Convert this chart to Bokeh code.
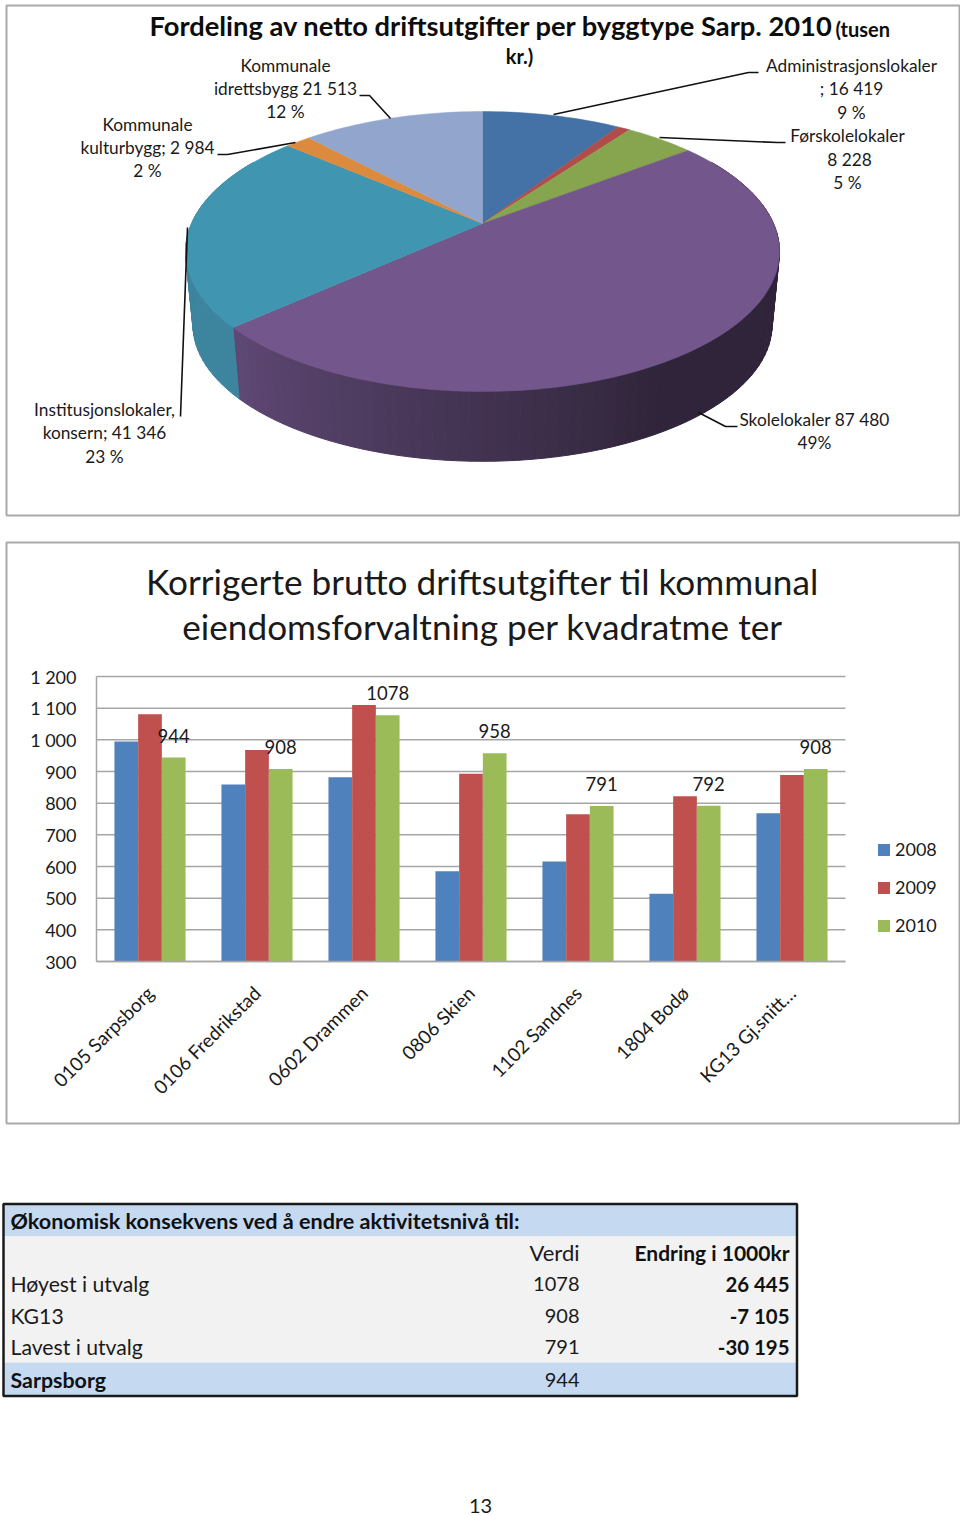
import math
from bokeh.embed import file_html
from bokeh.resources import INLINE
from bokeh.plotting import figure
from bokeh.layouts import column
from bokeh.models import ColumnDataSource, FixedTicker, Legend, LegendItem, Range1d
from bokeh.core.properties import value

FONT = "Lato"

# ---------- data ----------
pie_names = ["Administrasjonslokaler", "Andre", "Førskolelokaler", "Skolelokaler",
             "Institusjonslokaler", "Kulturbygg", "Idrettsbygg"]
pie_values = [16419, 1500, 8228, 87480, 41346, 2984, 21513]
pie_colors = ["#4472a6", "#b04c49", "#87a44f", "#72568c", "#4095b0", "#dc8a3e", "#92a6cd"]

pie_label_lines = ["Kommunale", "idrettsbygg 21 513", "12 %",
                   "Kommunale", "kulturbygg; 2 984", "2 %",
                   "Administrasjonslokaler", "; 16 419", "9 %",
                   "Førskolelokaler", "8 228", "5 %",
                   "Institusjonslokaler,", "konsern; 41 346", "23 %",
                   "Skolelokaler 87 480", "49%"]

categories = ["0105 Sarpsborg", "0106 Fredrikstad", "0602 Drammen", "0806 Skien",
              "1102 Sandnes", "1804 Bodø", "KG13 Gj.snitt…"]
v2008 = [995, 859, 882, 585, 616, 514, 768]
v2009 = [1081, 968, 1110, 893, 765, 822, 889]
v2010 = [944, 908, 1078, 958, 791, 792, 908]
y_ticks = [300, 400, 500, 600, 700, 800, 900, 1000, 1100, 1200]

table_title = "Økonomisk konsekvens ved å endre aktivitetsnivå til:"
row_labels = ["Høyest i utvalg", "KG13", "Lavest i utvalg", "Sarpsborg"]
row_verdi = ["1078", "908", "791", "944"]
row_endring = ["26 445", "-7 105", "-30 195", ""]

# ---------- pie (3D projection) ----------
PW, PH = 960, 530
pie = figure(width=PW, height=PH, x_range=Range1d(0, PW), y_range=Range1d(PH, 0),
             toolbar_location=None, output_backend="svg", min_border=0, frame_align=False,
             outline_line_color=None, x_axis_type=None, y_axis_type=None)
pie.grid.visible = False

cx, cy, A, B, K = 482.0, 223.0, 291.0, 134.4, 0.2


def rim(theta, scale=1.0, drop=0.0):
    t = math.radians(theta)
    w = 1 + K * math.cos(t)
    return cx + scale * A * math.sin(t) / w, cy - scale * B * math.cos(t) / w + drop


def hexmix(c1, c2, f):
    a = [int(c1[i:i + 2], 16) for i in (1, 3, 5)]
    b = [int(c2[i:i + 2], 16) for i in (1, 3, 5)]
    return "#%02x%02x%02x" % tuple(round(x + (y - x) * f) for x, y in zip(a, b))


total = sum(pie_values)
edges = [0.0]
for v_ in pie_values:
    edges.append(edges[-1] + v_ / total * 360)

# frame
pie.quad(left=[6], right=[959], top=[5], bottom=[515], fill_color="white",
         line_color="#a9a9a9", line_width=2)

# side wall
wx, wy, wc = [], [], []
th = 60.0
while th < 300.0:
    t2 = th + 2.0
    m = (th + t2) / 2
    if m < edges[4]:
        f = min(1.0, max(0.0, (edges[4] - m) / 80.0))
        c = hexmix("#5f4875", "#2f2439", f)
    else:
        c = "#3d859e"
    a1, b1 = rim(th)
    a2, b2 = rim(t2)
    a3, b3 = rim(t2, 0.975, 74)
    a4, b4 = rim(th, 0.975, 74)
    wx.append([a1, a2, a3, a4])
    wy.append([b1, b2, b3, b4])
    wc.append(c)
    th = t2
pie.patches(wx, wy, fill_color=wc, line_color=wc, line_width=1.0)

# top surface
xs, ys = [], []
for i in range(len(pie_values)):
    n = max(2, int((edges[i + 1] - edges[i]) / 1.5))
    px, py = [cx], [cy]
    for j in range(n + 1):
        x_, y_ = rim(edges[i] + (edges[i + 1] - edges[i]) * j / n)
        px.append(x_)
        py.append(y_)
    xs.append(px)
    ys.append(py)
pie.patches(xs, ys, fill_color=pie_colors, line_color=pie_colors, line_width=0.5)

# leader lines
leaders_x = [[359, 369, 390], [217, 227, 295], [758, 748, 553], [785, 777, 659], [180, 187], [737, 725, 698]]
leaders_y = [[95, 95, 118], [154, 154, 142], [72, 72, 114], [142, 142, 137], [416, 227], [426, 426, 412]]
pie.multi_line(leaders_x, leaders_y, line_color="#111111", line_width=1.6)

lab_x = [285, 285, 285, 147, 147, 147, 851, 851, 851, 847, 849, 847, 104, 104, 104, 814, 814]
lab_y = [65, 88, 111, 124, 147, 170, 65, 88, 112, 135, 159, 182, 409, 432, 456, 419, 442]
pie.text(lab_x, lab_y, text=pie_label_lines, text_font=value(FONT), text_font_size="17.3px",
         text_align="center", text_baseline="middle", text_color="#1a1a1a")

pie.text([149], [25], text=["Fordeling av netto driftsutgifter per byggtype Sarp. 2010"],
         text_font=value(FONT), text_font_style="bold", text_font_size="27.3px",
         text_align="left", text_baseline="middle", text_color="#0d0d0d")
pie.text([835, 519], [28, 55], text=["(tusen", "kr.)"],
         text_font=value(FONT), text_font_style="bold", text_font_size="20px",
         text_align=["left", "center"], text_baseline="middle", text_color="#0d0d0d")

# ---------- bars ----------
BH = 610
FL, FR, FT, FB = 96, 845, 676, 961   # plot area edges on the page


def dx(px):
    return (px - FL) * len(categories) / (FR - FL)


def dy(py):
    return 1200 - (py - FT) * 900 / (FB - FT)


bar = figure(width=PW, height=BH, x_range=Range1d(dx(0), dx(PW)), y_range=Range1d(dy(PH + BH), dy(PH)),
             toolbar_location=None, output_backend="svg", frame_align=False, min_border=0,
             outline_line_color=None)
bar.quad(left=[dx(6)], right=[dx(959)], top=[dy(542)], bottom=[dy(1123)], fill_alpha=0,
         line_color="#a9a9a9", line_width=2)
bar.grid.visible = False
bar.segment(x0=0, x1=len(categories), y0=y_ticks, y1=y_ticks, line_color="#a6a6a6", line_width=1.5)

idx = [i + 0.5 for i in range(len(categories))]
W = 0.2215
src = ColumnDataSource(dict(x1=[i - W for i in idx], x2=idx, x3=[i + W for i in idx],
                            a=v2008, b=v2009, c=v2010, lab=[str(v) for v in v2010]))
r1 = bar.vbar(x="x1", top="a", bottom=300, width=W, source=src, fill_color="#4f81bd", line_color=None)
r2 = bar.vbar(x="x2", top="b", bottom=300, width=W, source=src, fill_color="#c0504d", line_color=None)
r3 = bar.vbar(x="x3", top="c", bottom=300, width=W, source=src, fill_color="#9bbb59", line_color=None)
bar.text(x="x3", y="c", text="lab", source=src, y_offset=-22,
         text_font=value(FONT), text_font_size="18.5px", text_align="center",
         text_baseline="middle", text_color="#1a1a1a")

bar.yaxis.fixed_location = 0
bar.yaxis.bounds = (300, 1200)
bar.yaxis.ticker = FixedTicker(ticks=y_ticks)
bar.yaxis.major_label_overrides = {v: (f"{v:,}".replace(",", " ")) for v in y_ticks}
bar.yaxis.major_tick_line_color = None
bar.yaxis.minor_tick_line_color = None
bar.yaxis.axis_line_color = "#a6a6a6"
bar.yaxis.axis_line_width = 1.5
bar.yaxis.major_label_standoff = 14
bar.yaxis.major_label_text_font = FONT
bar.yaxis.major_label_text_font_size = "18px"
bar.yaxis.major_label_text_color = "#1a1a1a"
bar.xaxis.fixed_location = 300
bar.xaxis.bounds = (0, len(categories))
bar.xaxis.ticker = FixedTicker(ticks=idx)
bar.xaxis.major_label_overrides = dict(zip(idx, categories))
bar.xaxis.major_tick_line_color = None
bar.xaxis.minor_tick_line_color = None
bar.xaxis.axis_line_color = "#a6a6a6"
bar.xaxis.axis_line_width = 1.5
bar.xaxis.major_label_orientation = math.pi / 4
bar.xaxis.major_label_standoff = 22
bar.xaxis.major_label_text_font = FONT
bar.xaxis.major_label_text_font_size = "19px"
bar.xaxis.major_label_text_color = "#1a1a1a"

legend = Legend(items=[LegendItem(label="2008", renderers=[r1]),
                       LegendItem(label="2009", renderers=[r2]),
                       LegendItem(label="2010", renderers=[r3])],
                location=(876, 204), glyph_width=15, glyph_height=15, label_standoff=4,
                spacing=16, padding=0, margin=0, border_line_color=None, background_fill_alpha=0,
                label_text_font=FONT, label_text_font_size="18px", label_text_color="#1a1a1a")
bar.add_layout(legend, "center")

bar.text([dx(482), dx(482)], [dy(580), dy(625)],
         text=["Korrigerte brutto driftsutgifter til kommunal", "eiendomsforvaltning per kvadratme ter"],
         text_font=value(FONT), text_font_size="35.2px", text_align="center",
         text_baseline="middle", text_color="#1a1a1a")

# ---------- table ----------
TH = 1516 - PH - BH
Y0 = PH + BH
tab = figure(width=PW, height=TH, x_range=Range1d(0, PW), y_range=Range1d(Y0 + TH, Y0),
             toolbar_location=None, output_backend="svg", min_border=0, frame_align=False,
             outline_line_color=None, x_axis_type=None, y_axis_type=None)
tab.grid.visible = False
tab.quad(left=[3, 3, 3], right=[796.5, 796.5, 796.5], top=[1203.5, 1236, 1362], bottom=[1236, 1362, 1395.5],
         fill_color=["#c5d9f1", "#f2f2f2", "#c5d9f1"], line_color=None)
tab.quad(left=[3], right=[796.5], top=[1203.5], bottom=[1395.5], fill_alpha=0,
         line_color="#1a1a1a", line_width=2.5)
tab.text([10], [1220], text=[table_title], text_font=value(FONT), text_font_style="bold",
         text_font_size="21.6px", text_baseline="middle", text_color="#111111")
row_y = [1283, 1315, 1346, 1379]
tab.text([10, 10, 10], row_y[:3], text=row_labels[:3], text_font=value(FONT), text_font_size="21.2px",
         text_baseline="middle", text_color="#1a1a1a")
tab.text([10], row_y[3:], text=row_labels[3:], text_font=value(FONT), text_font_style="bold",
         text_font_size="21.4px", text_baseline="middle", text_color="#111111")
tab.text([579], [1252], text=["Verdi"], text_font=value(FONT),
         text_font_size="22px", text_align="right", text_baseline="middle", text_color="#1a1a1a")
tab.text([579] * 4, row_y, text=row_verdi, text_font=value(FONT),
         text_font_size="20px", text_align="right", text_baseline="middle", text_color="#1a1a1a")
tab.text([789], [1252], text=["Endring i 1000kr"],
         text_font=value(FONT), text_font_style="bold", text_font_size="21px", text_align="right",
         text_baseline="middle", text_color="#111111")
tab.text([789] * 3, row_y[:3], text=row_endring[:3],
         text_font=value(FONT), text_font_style="bold", text_font_size="20.4px", text_align="right",
         text_baseline="middle", text_color="#111111")
tab.text([480], [1505], text=["13"], text_font=value(FONT), text_font_size="20px",
         text_align="center", text_baseline="middle", text_color="#1a1a1a")

root = column(pie, bar, tab, spacing=0)
open("out.html", "w").write(file_html(root, INLINE))
